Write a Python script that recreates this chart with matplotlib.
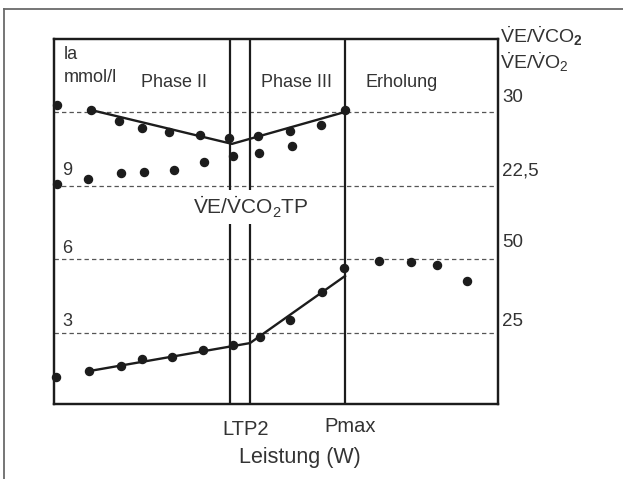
import matplotlib
matplotlib.use("Agg")
import matplotlib.pyplot as plt
from matplotlib.lines import Line2D

plt.rcParams['font.family'] = ['Liberation Sans', 'DejaVu Sans']
plt.rcParams['mathtext.fontset'] = 'custom'
plt.rcParams['mathtext.rm'] = 'Liberation Sans'
plt.rcParams['mathtext.it'] = 'Liberation Sans:italic'
plt.rcParams['mathtext.bf'] = 'Liberation Sans:bold'

# ---------------- data (Leistung in arbitrary units) ----------------
# VE/VCO2 (right scale)
vco2_x = [3, 37, 65, 88, 115, 146, 175, 204, 236, 267, 291]
vco2_y = [30.7, 30.2, 29.1, 28.4, 28.0, 27.7, 27.3, 27.6, 28.1, 28.7, 30.2]
vco2_fit_x = [37, 178, 291]
vco2_fit_y = [30.2, 26.75, 30.0]

# VE/VO2 (right scale)
vo2_x = [3, 34, 67, 90, 120, 150, 179, 205, 238]
vo2_y = [22.7, 23.2, 23.8, 23.9, 24.1, 24.9, 25.5, 25.8, 26.5]

# Lactate (mmol/l, left scale)
la_x = [2, 35, 67, 88, 118, 149, 179, 206, 236, 268, 290, 325, 357, 383, 413]
la_y = [1.21, 1.45, 1.66, 1.94, 2.02, 2.31, 2.51, 2.84, 3.53, 4.67, 5.64,
        5.93, 5.89, 5.77, 5.12]
la_fit_x = [35, 196, 291]
la_fit_y = [1.45, 2.59, 5.32]

# markers / lines
ltp2_lines = [176, 196]
pmax_line = 291
grid_levels = [3, 6, 9, 12]          # mmol/l
left_labels = ['3', '6', '9']
right_labels = ['25', '50', '22,5', '30']

phase_names = ['Phase II', 'Phase III', 'Erholung']
phase_x = [87, 207, 311]

XMAX = 444
YMIN, YMAX = 0.11, 14.97
RIGHT_FACTOR = 2.5

ink = '#1c1c1c'
txt = '#333333'

fig = plt.figure(figsize=(6.23, 4.79), dpi=100)
ax = fig.add_axes([54/623, 1-404/479, 444/623, 365/479])
ax2 = ax.twinx()
ax.set_xlim(0, XMAX)
ax.set_ylim(YMIN, YMAX)
ax2.set_ylim(YMIN*RIGHT_FACTOR, YMAX*RIGHT_FACTOR)
for a in (ax, ax2):
    a.set_xticks([])
    a.set_yticks([])
    for s in a.spines.values():
        s.set_linewidth(1.6)
        s.set_color(ink)

# dashed guides
for g in grid_levels:
    ax.axhline(g, color='#555555', lw=0.9, ls=(0, (3.5, 2.5)), zorder=1)

# vertical lines
for v in ltp2_lines + [pmax_line]:
    ax.axvline(v, color=ink, lw=1.6, zorder=2)

# series
ms = 5.8
ax2.plot(vco2_fit_x, vco2_fit_y, color=ink, lw=1.7, zorder=3)
ax2.plot(vco2_x, vco2_y, 'o', color=ink, ms=ms, zorder=4, clip_on=False)
ax2.plot(vo2_x, vo2_y, 'o', color=ink, ms=ms, zorder=4, clip_on=False)
ax.plot(la_fit_x, la_fit_y, color=ink, lw=1.7, zorder=3)
ax.plot(la_x, la_y, 'o', color=ink, ms=ms, zorder=4, clip_on=False)

# helper: pixel y -> left data
def py(p):
    return (406.7 - p) / 24.56

# left labels
ax.text(10, py(55), 'la', fontsize=13, color=txt, va='center', ha='left')
ax.text(10, py(78), 'mmol/l', fontsize=13, color=txt, va='center', ha='left')
for lab, ypix in zip(left_labels, [322, 249, 171]):
    ax.text(8, py(ypix), lab, fontsize=13, color=txt, va='center', ha='left')

for name, xp in zip(phase_names, phase_x):
    ax.text(xp, py(83), name, fontsize=13, color=txt, va='center', ha='left')

# right labels
for lab, ypix in zip(right_labels, [322, 243, 171, 98]):
    ax.text(448, py(ypix), lab, fontsize=13.5, color=txt, va='center', ha='left',
            clip_on=False)

vco2_lab = r'$\dot{\mathrm{V}}\mathrm{E/}\dot{\mathrm{V}}\mathrm{CO}_\mathbf{2}$'
vo2_lab = r'$\dot{\mathrm{V}}\mathrm{E/}\dot{\mathrm{V}}\mathrm{O}_2$'
ax.text(446, py(36), vco2_lab, fontsize=14, color=txt, va='center', ha='left',
        clip_on=False)
ax.text(446, py(62), vo2_lab, fontsize=14, color=txt, va='center', ha='left',
        clip_on=False)

# threshold label
tp_lab = r'$\dot{\mathrm{V}}\mathrm{E/}\dot{\mathrm{V}}\mathrm{CO}_2\mathrm{TP}$'
ax.text(197, py(207), tp_lab, fontsize=15, color=txt, va='center', ha='center',
        zorder=5, bbox=dict(facecolor='white', edgecolor='none', pad=3))

# bottom labels
ax.text(192, py(429), 'LTP2', fontsize=14.5, color=txt, va='center', ha='center',
        clip_on=False)
ax.text(296, py(426), 'Pmax', fontsize=14.5, color=txt, va='center', ha='center',
        clip_on=False)
ax.text(246, py(457), 'Leistung (W)', fontsize=15.5, color=txt, va='center',
        ha='center', clip_on=False)

# outer frame (top and left edges)
fig.add_artist(Line2D([4/623, 1], [1-9/479, 1-9/479], color='#6a6a6a', lw=1.3))
fig.add_artist(Line2D([4/623, 4/623], [0, 1-9/479], color='#6a6a6a', lw=1.3))

fig.savefig('out.png', dpi=100)
